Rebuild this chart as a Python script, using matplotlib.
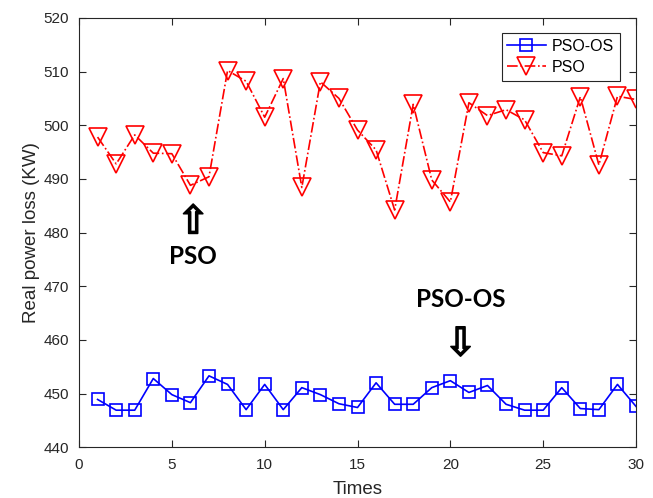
import matplotlib
matplotlib.use("Agg")
import matplotlib.pyplot as plt
import matplotlib.patheffects as pe
import numpy as np

times = np.arange(1, 31)
pso_os = [448.9, 446.9, 446.9, 452.8, 449.8, 448.3, 453.3, 451.7, 447.0, 451.7,
          447.0, 451.1, 449.8, 448.1, 447.4, 452.0, 448.0, 448.0, 451.1, 452.4,
          450.2, 451.5, 448.0, 446.9, 446.9, 451.1, 447.2, 447.0, 451.7, 447.6]
pso = [497.8, 492.8, 498.2, 494.8, 494.7, 488.8, 490.4, 510.2, 508.2, 501.5,
       508.7, 488.4, 508.1, 505.0, 499.1, 495.4, 484.2, 503.9, 489.8, 485.7,
       504.2, 501.8, 502.9, 501.0, 494.9, 494.3, 505.3, 492.6, 505.4, 504.8]

plt.rcParams['font.family'] = ['Liberation Sans', 'DejaVu Sans']

fig = plt.figure(figsize=(6.53, 4.98), dpi=100)
ax = fig.add_axes([0.121, 0.102, 0.853, 0.862])

ax.plot(times, pso_os, color='blue', marker='s', markersize=8.5, markerfacecolor='none',
        markeredgewidth=1.2, linewidth=1.2, label='PSO-OS')
ax.plot(times, pso, color='red', linestyle='-.', marker='v', markersize=13,
        markerfacecolor='none', markeredgewidth=1.2, linewidth=1.2, label='PSO')

ax.set_xlim(0, 30)
ax.set_ylim(440, 520)
ax.set_xticks(np.arange(0, 31, 5))
ax.set_yticks(np.arange(440, 521, 10))
ax.tick_params(direction='in', top=True, right=True, labelsize=11, colors='#262626',
               length=5)
ax.tick_params(axis='x', pad=8)
ax.tick_params(axis='y', pad=7)
for s in ax.spines.values():
    s.set_color('#262626')
ax.set_xlabel('Times', fontsize=13.5, color='#262626', labelpad=6)
ax.set_ylabel('Real power loss (KW)', fontsize=13.5, color='#262626', labelpad=3)

leg = ax.legend(loc='upper right', bbox_to_anchor=(0.971, 0.965), borderaxespad=0,
                fontsize=11.5, fancybox=False, edgecolor='#262626', framealpha=1,
                handlelength=2.4, borderpad=0.35, labelspacing=0.4, handletextpad=0.4)
leg.get_frame().set_linewidth(0.8)

# annotations
stroke = [pe.withStroke(linewidth=1.2, foreground='black')]
ax.text(6.15, 481.9, '\u21e7', fontsize=28, ha='center', va='center',
        family='DejaVu Sans', path_effects=stroke)
ax.text(6.15, 475.6, 'PSO', fontsize=17.5, fontweight='bold', ha='center', va='center',
        family='Lato')
ax.text(20.55, 467.6, 'PSO-OS', fontsize=17.5, fontweight='bold', ha='center', va='center',
        family='Lato')
ax.text(20.55, 459.2, '\u21e9', fontsize=28, ha='center', va='center',
        family='DejaVu Sans', path_effects=stroke)

fig.savefig('out.png', dpi=100)
